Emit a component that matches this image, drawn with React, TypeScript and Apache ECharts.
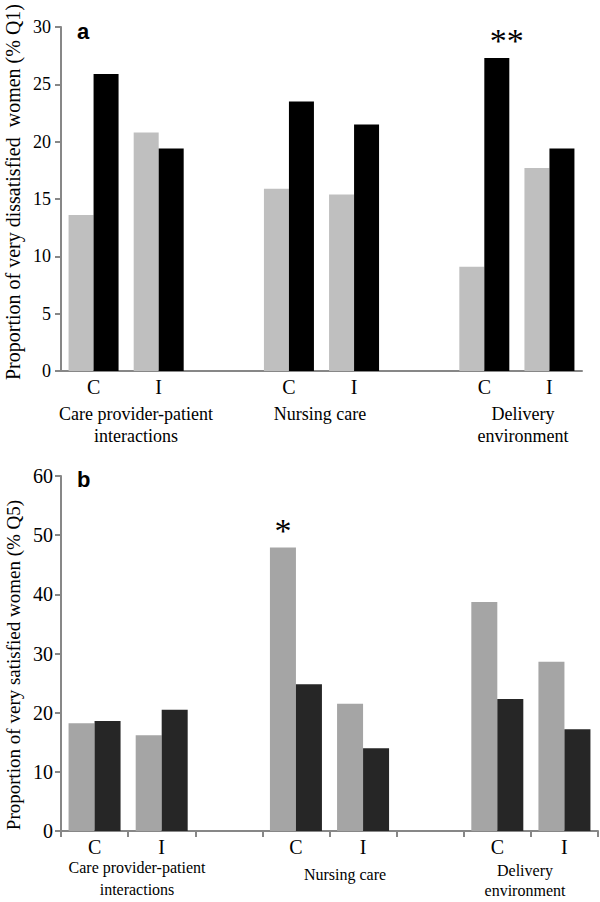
import React, { useEffect, useRef } from 'react';
import * as echarts from 'echarts';

const categories = ['C', 'I', '', 'C', 'I', '', 'C', 'I'];
const topLight = [13.6, 20.8, null, 15.9, 15.4, null, 9.1, 17.7];
const topDark = [25.9, 19.4, null, 23.5, 21.5, null, 27.3, 19.4];
const bottomLight = [18.2, 16.2, null, 47.9, 21.5, null, 38.7, 28.6];
const bottomDark = [18.6, 20.5, null, 24.8, 14.0, null, 22.3, 17.2];
const topDarkMarks = ['', '', '', '', '', '', '**', ''];
const bottomLightMarks = ['', '', '', '*', '', '', '', ''];
const groupLabels = ['Care provider-patient\ninteractions', 'Nursing care', 'Delivery\nenvironment'];
const topTitle = 'Proportion of very dissatisfied  women (% Q1)';
const bottomTitle = 'Proportion of very satisfied women (% Q5)';

const SERIF = '"Liberation Serif", "Times New Roman", serif';
const AXIS = '#878787';

function withMarks(values: (number | null)[], marks: string[], offset: number[]) {
  return values.map((v, i) =>
    marks[i]
      ? {
          value: v,
          label: {
            show: true,
            position: 'top',
            formatter: marks[i],
            fontFamily: SERIF,
            fontSize: 34,
            color: '#000',
            distance: 0,
            offset,
          },
        }
      : v
  );
}

export default function App() {
  const ref = useRef<HTMLDivElement>(null);
  useEffect(() => {
    if (!ref.current) return;
    const chart = echarts.init(ref.current, null, { renderer: 'svg' });
    const textStyle = (size: number) => ({ fontFamily: SERIF, fontSize: size, color: '#000' });
    const option: any = {
      animation: false,
      backgroundColor: '#fff',
      grid: [
        { left: 61, top: 27, width: 521, height: 344 },
        { left: 61, top: 476, width: 537, height: 355 },
      ],
      xAxis: [
        {
          type: 'category',
          gridIndex: 0,
          data: categories,
          axisLine: { lineStyle: { color: AXIS, width: 2 } },
          axisTick: { show: false },
          axisLabel: { ...textStyle(20), margin: 6, interval: 0 },
        },
        {
          type: 'category',
          gridIndex: 1,
          data: categories,
          axisLine: { lineStyle: { color: AXIS, width: 2 } },
          axisTick: { show: true, length: 6, lineStyle: { color: AXIS, width: 2 } },
          axisLabel: { ...textStyle(20), margin: 6, interval: 0 },
        },
      ],
      yAxis: [
        {
          type: 'value',
          gridIndex: 0,
          min: 0,
          max: 30,
          interval: 5,
          splitLine: { show: false },
          axisLine: { show: true, lineStyle: { color: AXIS, width: 2 } },
          axisTick: { show: true, length: 6, lineStyle: { color: AXIS, width: 2 } },
          axisLabel: { ...textStyle(18), margin: 10 },
        },
        {
          type: 'value',
          gridIndex: 1,
          min: 0,
          max: 60,
          interval: 10,
          splitLine: { show: false },
          axisLine: { show: true, lineStyle: { color: AXIS, width: 2 } },
          axisTick: { show: true, length: 6, lineStyle: { color: AXIS, width: 2 } },
          axisLabel: { ...textStyle(20), margin: 8 },
        },
      ],
      series: [
        {
          type: 'bar',
          xAxisIndex: 0,
          yAxisIndex: 0,
          data: topLight,
          barWidth: 25,
          barGap: '0%',
          itemStyle: { color: '#bfbfbf' },
        },
        {
          type: 'bar',
          xAxisIndex: 0,
          yAxisIndex: 0,
          data: withMarks(topDark, topDarkMarks, [10, 0]),
          barWidth: 25,
          barGap: '0%',
          itemStyle: { color: '#000000' },
        },
        {
          type: 'bar',
          xAxisIndex: 1,
          yAxisIndex: 1,
          data: withMarks(bottomLight, bottomLightMarks, [0, 0]),
          barWidth: 26,
          barGap: '0%',
          itemStyle: { color: '#a5a5a5' },
        },
        {
          type: 'bar',
          xAxisIndex: 1,
          yAxisIndex: 1,
          data: bottomDark,
          barWidth: 26,
          barGap: '0%',
          itemStyle: { color: '#262626' },
        },
      ],
      graphic: [
        {
          type: 'text',
          x: 13,
          y: 192,
          rotation: Math.PI / 2,
          style: { text: topTitle, fontFamily: SERIF, fontSize: 20, fill: '#000', align: 'center', verticalAlign: 'middle' },
        },
        {
          type: 'text',
          x: 13,
          y: 665,
          rotation: Math.PI / 2,
          style: { text: bottomTitle, fontFamily: SERIF, fontSize: 19, fill: '#000', align: 'center', verticalAlign: 'middle' },
        },
        {
          type: 'text',
          x: 77,
          y: 31,
          style: { text: 'a', fontFamily: '"Liberation Sans", Arial, sans-serif', fontWeight: 'bold', fontSize: 22, fill: '#000', align: 'left', verticalAlign: 'middle' },
        },
        {
          type: 'text',
          x: 77,
          y: 479,
          style: { text: 'b', fontFamily: '"Liberation Sans", Arial, sans-serif', fontWeight: 'bold', fontSize: 22, fill: '#000', align: 'left', verticalAlign: 'middle' },
        },
        {
          type: 'text',
          x: 136,
          y: 425,
          style: { text: groupLabels[0], fontFamily: SERIF, fontSize: 18, lineHeight: 22, fill: '#000', align: 'center', verticalAlign: 'middle' },
        },
        {
          type: 'text',
          x: 320,
          y: 414,
          style: { text: groupLabels[1], fontFamily: SERIF, fontSize: 18, lineHeight: 22, fill: '#000', align: 'center', verticalAlign: 'middle' },
        },
        {
          type: 'text',
          x: 523,
          y: 425,
          style: { text: groupLabels[2], fontFamily: SERIF, fontSize: 18, lineHeight: 22, fill: '#000', align: 'center', verticalAlign: 'middle' },
        },
        {
          type: 'text',
          x: 137,
          y: 878.5,
          style: { text: groupLabels[0], fontFamily: SERIF, fontSize: 16, lineHeight: 22, fill: '#000', align: 'center', verticalAlign: 'middle' },
        },
        {
          type: 'text',
          x: 345,
          y: 874,
          style: { text: groupLabels[1], fontFamily: SERIF, fontSize: 16, lineHeight: 22, fill: '#000', align: 'center', verticalAlign: 'middle' },
        },
        {
          type: 'text',
          x: 525,
          y: 880,
          style: { text: groupLabels[2], fontFamily: SERIF, fontSize: 16, lineHeight: 20, fill: '#000', align: 'center', verticalAlign: 'middle' },
        },
      ],
    };
    chart.setOption(option);
    return () => chart.dispose();
  }, []);
  return <div ref={ref} style={{ position: 'fixed', left: 0, top: 0, width: 600, height: 902 }} />;
}
